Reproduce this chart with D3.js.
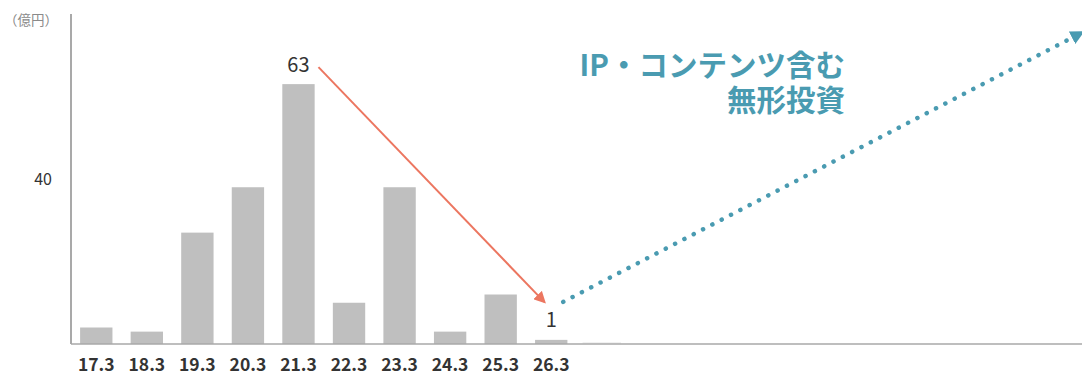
<!DOCTYPE html>
<html>
<head>
<meta charset="utf-8">
<script src="https://cdn.jsdelivr.net/npm/d3@7"></script>
<style>
  body { margin: 0; background: #fff; }
  svg { display: block; font-family: "Noto Sans CJK JP", "Noto Sans", sans-serif; }
</style>
</head>
<body>
<div id="chart"></div>
<script>
// fiscal-year labels and intangible investment (億円)
const categories = ['17.3', '18.3', '19.3', '20.3', '21.3', '22.3', '23.3', '24.3', '25.3', '26.3']
const values = [4, 3, 27, 38, 63, 10, 38, 3, 12, 1]
const yTicks = [40]
const slotCount = 20
const unitLabel = '（億円）'
const titleLines = ['IP・コンテンツ含む', '無形投資']

const width = 1082
const height = 374
const plotLeft = 71
const plotBottom = 344
const plotTop = 14

const gray = '#bfbfbf'
const axisColor = '#a9a9a9'
const red = '#ec7660'
const teal = '#4a9bb1'

const svg = d3.select('#chart').append('svg')
  .attr('width', width)
  .attr('height', height)

const defs = svg.append('defs')
const marker = (id, color, size) => {
  defs.append('marker')
    .attr('id', id)
    .attr('viewBox', '0 0 10 10')
    .attr('refX', 8)
    .attr('refY', 5)
    .attr('markerUnits', 'userSpaceOnUse')
    .attr('markerWidth', size)
    .attr('markerHeight', size)
    .attr('orient', 'auto')
    .append('path')
    .attr('d', 'M0,0 L10,5 L0,10 Z')
    .attr('fill', color)
}
marker('arrow-red', red, 12)
marker('arrow-teal', teal, 14)

const x = d3.scaleBand()
  .domain(d3.range(slotCount))
  .range([plotLeft, width])
  .paddingInner(0.36)
  .paddingOuter(0.18)

const y = d3.scaleLinear()
  .domain([0, 80])
  .range([plotBottom, plotTop])

// bars
svg.selectAll('rect.bar')
  .data(values)
  .enter()
  .append('rect')
  .attr('class', 'bar')
  .attr('x', (d, i) => x(i))
  .attr('y', d => y(d))
  .attr('width', x.bandwidth())
  .attr('height', d => plotBottom - y(d))
  .attr('fill', gray)

// empty slot after the last bar
const emptySlot = categories.length
svg.append('line')
  .attr('x1', x(emptySlot) - x.step() * 0.06)
  .attr('x2', x(emptySlot) + x.bandwidth() + x.step() * 0.06)
  .attr('y1', plotBottom - 1)
  .attr('y2', plotBottom - 1)
  .attr('stroke', '#e3e3e3')
  .attr('stroke-width', 1)

// axes
svg.append('line')
  .attr('x1', plotLeft).attr('x2', plotLeft)
  .attr('y1', y.range()[1]).attr('y2', plotBottom)
  .attr('stroke', axisColor)
  .attr('stroke-width', 2)

svg.append('line')
  .attr('x1', plotLeft).attr('x2', width)
  .attr('y1', plotBottom).attr('y2', plotBottom)
  .attr('stroke', axisColor)
  .attr('stroke-width', 1.5)

svg.selectAll('text.ytick')
  .data(yTicks)
  .enter()
  .append('text')
  .attr('class', 'ytick')
  .attr('x', 52)
  .attr('y', d => y(d))
  .attr('dy', '0.35em')
  .attr('text-anchor', 'end')
  .attr('font-size', 16)
  .attr('fill', '#333')
  .text(d => d)

svg.append('text')
  .attr('x', 4)
  .attr('y', 25)
  .attr('font-size', 13.5)
  .attr('fill', '#8a8a8a')
  .text(unitLabel)

svg.selectAll('text.xtick')
  .data(categories)
  .enter()
  .append('text')
  .attr('class', 'xtick')
  .attr('x', (d, i) => x(i) + x.bandwidth() / 2)
  .attr('y', 371)
  .attr('text-anchor', 'middle')
  .attr('font-size', 17.5)
  .attr('font-weight', 'bold')
  .attr('fill', '#333')
  .text(d => d)

// value labels for peak and latest
const peak = values.indexOf(d3.max(values))
const last = values.length - 1
const cx = i => x(i) + x.bandwidth() / 2

svg.append('text')
  .attr('x', cx(peak))
  .attr('y', y(values[peak]) - 12)
  .attr('text-anchor', 'middle')
  .attr('font-size', 20)
  .attr('fill', '#333')
  .text(values[peak])

svg.append('text')
  .attr('x', cx(last))
  .attr('y', y(values[last]) - 13)
  .attr('text-anchor', 'middle')
  .attr('font-size', 20)
  .attr('fill', '#333')
  .text(values[last])

// red arrow: peak down to latest
svg.append('line')
  .attr('x1', cx(peak) + 20)
  .attr('y1', y(values[peak]) - 17)
  .attr('x2', cx(last) - 7)
  .attr('y2', y(values[last]) - 38)
  .attr('stroke', red)
  .attr('stroke-width', 2)
  .attr('marker-end', 'url(#arrow-red)')

// teal dotted arrow: rising toward the top right
svg.append('line')
  .attr('x1', cx(last) + 12)
  .attr('y1', y(values[last]) - 38)
  .attr('x2', width)
  .attr('y2', y(75.5))
  .attr('stroke', teal)
  .attr('stroke-width', 4.5)
  .attr('stroke-linecap', 'round')
  .attr('stroke-dasharray', '0.1 10.4')
  .attr('marker-end', 'url(#arrow-teal)')

const title = svg.append('text')
  .attr('text-anchor', 'end')
  .attr('font-size', 29.5)
  .attr('font-weight', 'bold')
  .attr('fill', teal)

title.selectAll('tspan')
  .data(titleLines)
  .enter()
  .append('tspan')
  .attr('x', 845)
  .attr('y', (d, i) => 76 + i * 35)
  .text(d => d)
</script>
</body>
</html>
